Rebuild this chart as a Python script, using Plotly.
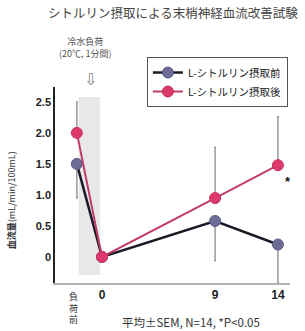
import plotly.graph_objects as go

# ---- data ----
days = [-2, 0, 9, 14]
tick_text = ["", "0", "9", "14"]
before = [1.5, 0.0, 0.58, 0.2]
after = [2.0, 0.0, 0.95, 1.48]
before_err_minus = [0.55, 0.0, 0.64, 0.62]
after_err_plus = [0.5, 0.0, 0.82, 0.78]
y_ticks = [0, 0.5, 1.0, 1.5, 2.0, 2.5]
y_tick_text = ["0", "0.5", "1.0", "1.5", "2.0", "2.5"]
series_names = ["L-シトルリン摂取前", "L-シトルリン摂取後"]
title_text = "シトルリン摂取による末梢神経血流改善試験"
y_title = "<b>血流量</b>(mL/min/100mL)"
note_text = "平均±SEM, N=14, *P<0.05"
pre_label = "負<br>荷<br>前"
load_label = "冷水負荷<br>(20℃, 1分間)"
band = [-1.85, -0.15]

FONT = "Liberation Sans, Noto Sans CJK JP, sans-serif"
JP = "Noto Sans CJK JP, sans-serif"

fig = go.Figure()
fig.add_trace(go.Scatter(
    x=days, y=before, name=series_names[0], mode="lines+markers",
    line=dict(color="#1a1a26", width=2.5),
    marker=dict(color="#6c6c96", size=11, line=dict(color="#5a5a84", width=1)),
    error_y=dict(type="data", symmetric=False, array=[0, 0, 0, 0],
                 arrayminus=before_err_minus, color="#9a9a9a", thickness=1.5, width=1),
    cliponaxis=False,
))
fig.add_trace(go.Scatter(
    x=days, y=after, name=series_names[1], mode="lines+markers",
    line=dict(color="#c23c68", width=2),
    marker=dict(color="#dc3a6c", size=11, line=dict(color="#c8305e", width=1)),
    error_y=dict(type="data", symmetric=False, array=after_err_plus,
                 arrayminus=[0, 0, 0, 0], color="#9a9a9a", thickness=1.5, width=1),
    cliponaxis=False,
))

fig.add_shape(type="rect", xref="x", yref="y", x0=band[0], x1=band[1],
              y0=-0.29, y1=2.58, fillcolor="#e8e8e8", line=dict(width=0), layer="below")

fig.update_layout(
    width=305, height=331,
    margin=dict(l=55, r=15, t=87, b=48, autoexpand=False),
    paper_bgcolor="white", plot_bgcolor="white",
    showlegend=True,
    legend=dict(x=0.391, y=1.153, xanchor="left", yanchor="top",
                bordercolor="#555555", borderwidth=1, bgcolor="white",
                font=dict(family=JP, size=10.5, color="#222"),
                itemwidth=30, tracegroupgap=0),
    xaxis=dict(range=[-3.74, 14.96], tickvals=days, ticktext=tick_text,
               showline=True, linecolor="#b4b4b4", linewidth=2,
               showgrid=False, zeroline=False, ticks="",
               tickfont=dict(family=FONT, size=12, color="#222", weight="bold")),
    yaxis=dict(range=[-0.42, 2.74], tickvals=y_ticks, ticktext=y_tick_text,
               showline=True, linecolor="#222", linewidth=1.5,
               showgrid=False, zeroline=False, ticks="",
               tickfont=dict(family=FONT, size=11, color="#222", weight="bold")),
)

ann = [
    dict(text=title_text, xref="paper", yref="paper", x=0.5, y=1.38,
         xanchor="center", yanchor="middle", showarrow=False,
         font=dict(family=JP, size=12.5, color="#444")),
    dict(text=load_label, xref="x", yref="paper", x=-1.3, y=1.2,
         xanchor="center", yanchor="middle", showarrow=False,
         font=dict(family=JP, size=9, color="#555"), align="center"),
    dict(text="⇩", xref="x", yref="paper", x=-0.95, y=1.04,
         xanchor="center", yanchor="middle", showarrow=False,
         font=dict(family="DejaVu Sans", size=16, color="#888")),
    dict(text=y_title, xref="paper", yref="paper", x=-0.185, y=0.42,
         xanchor="center", yanchor="middle", showarrow=False, textangle=-90,
         font=dict(family=JP, size=9, color="#333")),
    dict(text=pre_label, xref="x", yref="paper", x=-2.3, y=-0.025,
         xanchor="center", yanchor="top", showarrow=False,
         font=dict(family=JP, size=9, color="#333")),
    dict(text="(日)", xref="x", yref="paper", x=15.0, y=-0.07,
         xanchor="left", yanchor="middle", showarrow=False,
         font=dict(family=JP, size=7, color="#555")),
    dict(text="*", xref="x", yref="y", x=14.8, y=1.22,
         xanchor="center", yanchor="middle", showarrow=False,
         font=dict(family=FONT, size=13, color="#111", weight="bold")),
    dict(text=note_text, xref="paper", yref="paper", x=0.58, y=-0.2,
         xanchor="center", yanchor="middle", showarrow=False,
         font=dict(family=JP, size=11.5, color="#333")),
]
fig.update_layout(annotations=ann)

fig.write_html("out.html", config={"displayModeBar": False},
               post_script="document.body.style.margin='0px';")
